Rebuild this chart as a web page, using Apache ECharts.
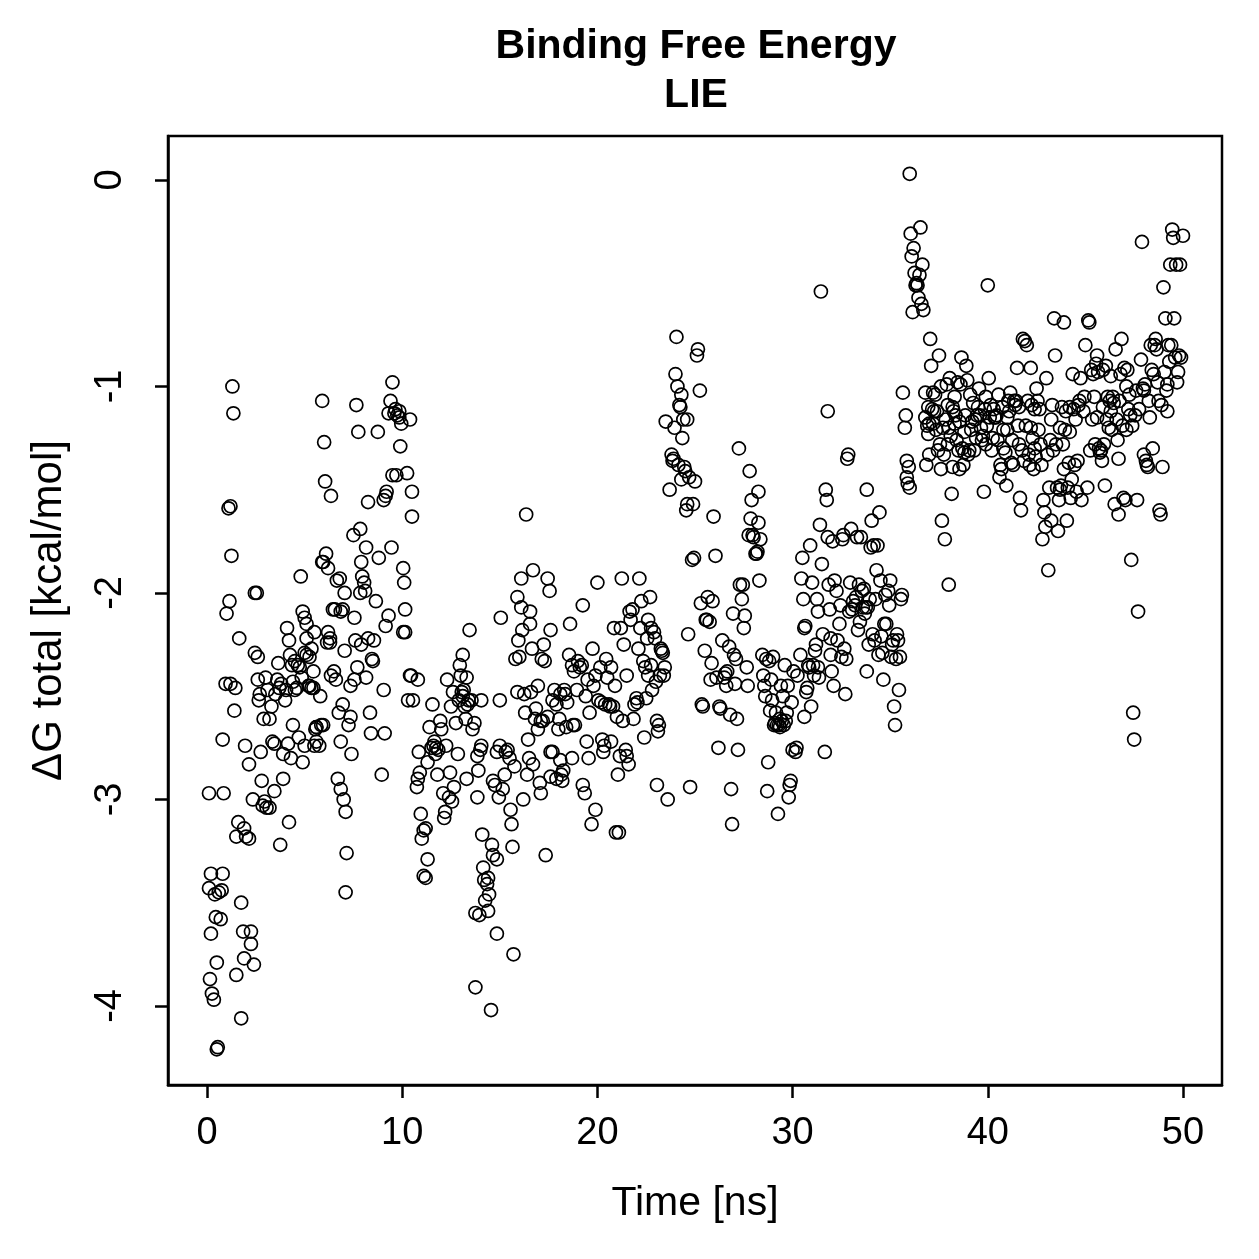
<!DOCTYPE html>
<html>
<head>
<meta charset="utf-8">
<script src="https://cdn.jsdelivr.net/npm/echarts@6/dist/echarts.min.js"></script>
<style>
  html, body { margin: 0; padding: 0; background: #fff; }
  #lie { width: 1259px; height: 1259px; }
</style>
</head>
<body>
<div id="lie"></div>
<script>
// tick labels
var xTicks = [0, 10, 20, 30, 40, 50];
var yTicks = [-4, -3, -2, -1, 0];

// [time ns, dG kcal/mol], one array per stretch of the run
var seg0 = [[0.1,-2.97],[0.1,-3.43],[0.15,-3.87],[0.2,-3.36],[0.2,-3.65],[0.25,-3.94],[0.35,-3.97],[0.4,-3.46],[0.5,-4.21],[0.55,-4.2],[0.5,-3.79],[0.45,-3.57],[0.6,-3.45],[0.75,-3.44],[0.8,-3.36],[0.7,-3.58],[0.85,-2.97],[0.8,-2.71],[1.0,-2.1],[0.95,-2.44],[1.1,-1.59],[1.2,-1.58],[1.15,-2.04],[1.25,-1.82],[1.2,-2.44],[1.3,-1.0],[1.35,-1.13],[1.45,-2.46],[1.4,-2.57],[1.65,-2.22],[1.6,-3.11],[1.5,-3.18],[1.5,-3.85],[1.75,-3.5],[1.75,-4.06],[1.85,-3.64],[1.9,-3.77],[1.9,-3.14],[2.0,-3.18],[2.15,-3.19],[1.95,-2.74],[2.15,-2.83],[2.25,-3.7],[2.25,-3.64],[2.4,-3.8],[2.35,-3.0],[2.45,-2.0],[2.55,-2.0],[2.45,-2.29],[2.6,-2.31],[2.7,-2.49],[2.65,-2.52],[2.75,-2.77],[2.8,-2.91],[2.85,-3.03],[2.95,-3.01],[3.05,-3.04],[3.2,-3.04],[2.9,-2.61],[3.0,-2.41],[3.1,-2.47],[3.2,-2.61],[3.35,-2.72],[3.45,-2.73],[3.45,-2.96],[3.6,-2.42],[3.65,-2.34],[3.5,-2.49],[3.7,-2.46],[3.75,-3.22],[3.9,-2.9],[3.9,-2.78],[4.0,-2.52],[4.1,-2.17],[4.2,-2.23],[4.25,-2.3],[4.05,-2.47],[4.15,-2.73],[4.2,-3.11],[4.4,-2.64],[4.5,-2.47],[4.35,-2.35],[4.5,-2.33],[4.65,-2.35],[4.75,-2.36],[4.6,-2.46],[4.85,-2.41],[4.8,-1.92],[4.9,-2.09],[5.0,-2.12],[5.1,-2.15],[5.0,-2.29],[5.1,-2.3],[5.25,-2.31],[5.35,-2.46],[5.25,-2.45],[4.9,-2.82],[5.0,-2.74],[5.5,-2.74],[5.6,-2.65],[5.5,-2.19],[5.45,-2.38],[4.7,-2.7],[4.3,-2.8],[3.3,-2.55],[2.6,-2.42],[3.8,-2.44],[4.4,-2.43],[5.2,-2.45],[5.55,-2.66],[5.6,-2.72]];
var seg1 = [[5.9,-1.85],[5.95,-1.85],[6.0,-1.27],[6.05,-1.46],[5.9,-1.07],[6.1,-1.81],[6.2,-1.88],[6.3,-2.24],[6.2,-2.19],[6.35,-1.53],[6.45,-2.08],[6.55,-2.08],[6.65,-1.94],[6.85,-2.09],[6.95,-2.08],[6.8,-1.93],[7.05,-2.0],[7.05,-2.28],[6.95,-2.54],[6.7,-2.9],[6.85,-2.95],[7.0,-3.0],[7.1,-3.06],[7.15,-3.26],[7.1,-3.45],[7.25,-2.64],[7.35,-2.6],[7.35,-2.45],[7.55,-2.42],[7.4,-2.78],[7.6,-2.23],[7.5,-1.72],[7.65,-1.09],[7.75,-1.22],[7.85,-1.69],[7.9,-1.85],[7.85,-2.0],[7.95,-1.92],[8.05,-1.95],[8.1,-1.99],[8.15,-1.78],[8.25,-1.56],[8.25,-2.22],[8.15,-2.41],[8.35,-2.58],[8.45,-2.32],[8.5,-2.33],[8.4,-2.68],[8.55,-2.23],[8.65,-2.04],[8.75,-1.22],[8.8,-1.83],[8.95,-2.88],[9.1,-2.68],[9.05,-2.47],[9.15,-2.16],[9.05,-1.55],[9.15,-1.53],[9.2,-1.51],[9.3,-2.11],[9.45,-1.78],[9.5,-1.43],[9.3,-1.13],[9.4,-1.07],[9.5,-0.98],[9.6,-1.13],[9.65,-1.11],[9.75,-1.14],[9.85,-1.15],[9.85,-1.12],[9.95,-1.18],[9.9,-1.29],[9.7,-1.43],[10.05,-1.88],[10.1,-1.95],[10.15,-2.08],[10.15,-2.19],[10.05,-2.19],[10.25,-1.42],[10.4,-1.16],[10.5,-1.51],[10.5,-1.63],[5.1,-2.22],[5.35,-2.27],[5.45,-2.46],[5.6,-2.65],[5.75,-2.74],[5.85,-2.64],[5.95,-2.64],[5.8,-2.5],[6.15,-2.24],[6.3,-2.22],[6.35,-2.4],[6.5,-2.38],[6.6,-2.42],[6.75,-2.58],[6.85,-2.72],[7.55,-2.12],[7.7,-2.36],[7.9,-2.25]];
var seg2 = [[10.4,-2.4],[10.3,-2.52],[10.45,-2.4],[10.55,-2.52],[10.8,-2.42],[10.85,-2.77],[10.75,-2.94],[10.8,-2.9],[10.9,-2.87],[10.95,-3.07],[11.0,-3.19],[11.1,-3.15],[11.2,-3.14],[11.1,-3.37],[11.2,-3.38],[11.3,-3.29],[11.3,-2.82],[11.5,-2.75],[11.6,-2.74],[11.4,-2.65],[11.55,-2.54],[11.65,-2.72],[11.75,-2.75],[11.85,-2.76],[11.95,-2.62],[12.0,-2.66],[12.1,-2.97],[12.15,-3.09],[12.2,-3.06],[12.25,-2.74],[12.3,-2.42],[12.4,-2.99],[12.55,-3.01],[12.65,-2.94],[12.75,-2.63],[12.85,-2.78],[12.9,-2.52],[13.0,-2.4],[13.05,-2.48],[13.1,-2.5],[13.15,-2.47],[13.3,-2.41],[13.25,-2.61],[13.35,-2.54],[13.4,-2.52],[13.45,-2.18],[13.6,-2.66],[13.7,-2.63],[13.85,-2.79],[13.9,-2.86],[13.85,-2.99],[14.0,-2.76],[14.05,-2.74],[14.05,-2.52],[14.1,-3.17],[14.15,-3.33],[14.2,-3.39],[14.35,-3.41],[14.4,-3.38],[14.45,-3.46],[14.4,-3.54],[14.25,-3.49],[13.95,-3.56],[13.75,-3.55],[13.75,-3.91],[14.55,-4.02],[14.6,-3.22],[14.65,-3.27],[14.85,-3.29],[14.65,-2.91],[14.75,-2.93],[14.85,-2.77],[14.85,-3.65],[14.95,-2.99],[15.0,-2.74],[15.0,-2.52],[15.05,-2.12],[15.15,-2.95],[15.25,-2.88],[15.3,-2.77],[15.4,-2.76],[11.7,-2.78],[12.5,-2.55],[12.6,-2.48],[13.2,-2.55],[12.95,-2.35],[13.1,-2.3],[13.3,-2.9],[11.8,-2.88],[12.45,-2.87],[13.55,-2.52]];
var seg3 = [[15.5,-2.8],[15.55,-3.05],[15.6,-3.12],[15.65,-3.23],[15.7,-3.75],[15.75,-2.84],[15.8,-2.32],[15.9,-2.48],[15.9,-2.02],[15.95,-2.23],[16.0,-2.31],[16.1,-1.93],[16.1,-2.07],[16.15,-2.18],[16.2,-3.0],[16.25,-2.49],[16.3,-2.58],[16.35,-1.62],[16.4,-2.88],[16.45,-2.71],[16.55,-2.15],[16.55,-2.09],[16.65,-2.27],[16.7,-1.89],[16.7,-2.83],[16.8,-2.61],[16.85,-2.56],[16.95,-2.66],[17.05,-2.92],[17.1,-2.97],[17.1,-2.62],[17.15,-2.32],[17.25,-2.25],[17.3,-2.33],[17.35,-3.27],[17.45,-1.93],[17.55,-1.99],[17.6,-2.18],[17.45,-2.6],[17.6,-2.77],[17.6,-2.89],[17.7,-2.77],[17.8,-2.47],[17.9,-2.54],[18.05,-2.61],[18.0,-2.66],[18.1,-2.81],[18.15,-2.88],[18.2,-2.91],[18.25,-2.86],[18.3,-2.47],[18.35,-2.49],[18.45,-2.53],[18.55,-2.3],[18.6,-2.15],[18.7,-2.35],[18.7,-2.8],[18.75,-2.64],[18.85,-2.64],[18.95,-2.47],[19.0,-2.33],[19.1,-2.36],[19.2,-2.35],[19.25,-2.06],[19.25,-2.93],[19.35,-2.97],[19.45,-2.72],[19.55,-2.8],[19.6,-2.58],[19.7,-3.12],[19.75,-2.27],[19.8,-2.45],[19.9,-2.4],[19.9,-3.05],[20.0,-1.95],[20.05,-2.52],[20.15,-2.36],[16.6,-2.48],[16.95,-2.45],[17.2,-2.62],[17.7,-2.52],[18.1,-2.49],[18.4,-2.65],[18.8,-2.38],[19.4,-2.5],[19.5,-2.42],[17.9,-2.9],[16.5,-2.8]];
var seg4 = [[20.2,-2.53],[20.25,-2.71],[20.3,-2.77],[20.35,-2.74],[20.4,-2.54],[20.45,-2.32],[20.5,-2.41],[20.6,-2.54],[20.65,-2.55],[20.7,-2.36],[20.7,-2.72],[20.8,-2.55],[20.85,-2.17],[20.95,-3.16],[21.05,-2.88],[21.1,-3.16],[21.15,-2.79],[21.2,-2.17],[21.25,-1.93],[21.3,-2.62],[21.35,-2.25],[21.45,-2.76],[21.5,-2.79],[21.6,-2.83],[21.65,-2.09],[21.7,-2.13],[21.8,-2.08],[21.85,-2.61],[21.9,-2.54],[22.0,-2.51],[22.05,-2.53],[22.1,-2.27],[22.15,-1.93],[22.2,-2.17],[22.25,-2.04],[22.35,-2.33],[22.45,-2.36],[22.5,-2.51],[22.55,-2.22],[22.6,-2.13],[22.7,-2.02],[22.75,-2.17],[22.75,-2.35],[22.8,-2.47],[22.9,-2.19],[22.95,-2.22],[23.0,-2.43],[23.05,-2.62],[23.1,-2.67],[23.15,-2.64],[23.05,-2.93],[23.2,-2.4],[23.25,-2.27],[23.3,-2.28],[23.35,-2.29],[23.4,-2.4],[23.45,-2.36],[23.5,-1.17],[23.6,-3.0],[23.7,-1.5],[23.8,-1.33],[23.85,-1.36],[23.95,-1.2],[24.05,-0.76],[24.0,-0.94],[24.1,-1.0],[24.2,-1.09],[24.3,-1.04],[24.25,-1.1],[24.35,-1.25],[24.4,-1.16],[24.45,-1.39],[24.5,-1.41],[24.6,-1.57],[24.65,-2.2],[24.7,-1.44],[24.75,-2.94],[24.85,-1.84],[24.9,-1.57],[24.95,-1.83],[25.0,-1.46],[25.1,-0.85],[25.15,-0.82],[25.25,-1.02],[23.9,-1.35],[24.15,-1.38],[24.3,-1.45],[24.55,-1.6],[24.6,-1.16],[21.5,-2.4],[21.0,-2.6],[22.4,-2.7],[22.6,-2.4],[20.9,-2.45]];
var seg5 = [[25.3,-2.05],[25.35,-2.54],[25.4,-2.55],[25.5,-2.28],[25.55,-2.13],[25.6,-2.13],[25.65,-2.02],[25.75,-2.14],[25.8,-2.42],[25.85,-2.34],[25.9,-2.04],[25.95,-1.63],[26.05,-1.82],[26.1,-2.41],[26.2,-2.75],[26.25,-2.55],[26.3,-2.56],[26.4,-2.23],[26.5,-2.41],[26.55,-2.39],[26.65,-2.38],[26.75,-2.26],[26.8,-2.59],[26.85,-2.95],[26.9,-3.12],[26.95,-2.1],[27.05,-2.44],[27.1,-2.32],[27.15,-2.61],[27.2,-2.76],[27.25,-1.3],[27.3,-1.96],[27.4,-2.03],[27.45,-1.96],[27.5,-2.17],[27.55,-2.11],[27.65,-2.36],[27.7,-2.45],[27.75,-1.72],[27.8,-1.41],[27.85,-1.64],[27.9,-1.55],[27.95,-1.72],[28.0,-1.73],[28.1,-1.81],[28.15,-1.81],[28.2,-1.8],[28.25,-1.51],[28.3,-1.94],[28.25,-1.66],[28.35,-1.74],[28.45,-2.3],[28.55,-2.45],[28.65,-2.32],[28.7,-2.96],[28.75,-2.82],[28.8,-2.33],[28.85,-2.57],[28.9,-2.42],[29.0,-2.31],[29.1,-2.63],[29.15,-2.58],[29.2,-2.64],[29.25,-3.07],[29.3,-2.64],[29.35,-2.61],[29.45,-2.62],[29.55,-2.64],[29.6,-2.35],[29.65,-2.62],[29.7,-2.58],[29.8,-2.99],[29.85,-2.93],[29.9,-2.91],[29.95,-2.53],[30.0,-2.76],[30.05,-2.38],[30.15,-2.77],[30.2,-2.75],[30.25,-2.4],[28.5,-2.4],[28.95,-2.52],[29.4,-2.45],[29.75,-2.45],[26.6,-2.45],[27.0,-2.3],[28.6,-2.5],[29.5,-2.5],[29.05,-2.64],[29.35,-2.65]];
var seg6 = [[30.4,-2.3],[30.45,-1.93],[30.5,-1.83],[30.55,-2.03],[30.6,-2.17],[30.65,-2.16],[30.7,-2.48],[30.75,-2.46],[30.8,-2.35],[30.85,-2.36],[30.9,-1.77],[31.0,-1.95],[31.05,-2.35],[31.15,-2.28],[31.2,-2.25],[31.25,-2.03],[31.3,-2.36],[31.3,-2.09],[31.35,-2.41],[31.4,-1.67],[31.45,-0.54],[31.5,-1.86],[31.55,-2.2],[31.65,-2.77],[31.7,-1.5],[31.75,-1.55],[31.8,-1.12],[31.8,-1.73],[31.85,-1.96],[31.9,-2.08],[31.95,-2.22],[31.95,-2.3],[32.0,-2.38],[32.05,-1.75],[32.15,-1.94],[32.25,-1.99],[32.3,-2.23],[32.45,-2.06],[32.5,-2.31],[32.55,-1.74],[32.6,-1.72],[32.65,-2.27],[32.7,-2.49],[32.75,-2.32],[32.8,-1.35],[32.85,-1.33],[32.9,-2.09],[32.95,-1.95],[33.0,-1.69],[33.05,-2.08],[33.1,-2.04],[33.2,-2.06],[33.3,-1.73],[33.25,-2.02],[33.35,-2.18],[33.4,-1.96],[33.45,-2.14],[33.5,-1.73],[33.55,-1.99],[33.6,-2.07],[33.65,-1.98],[33.75,-2.07],[33.8,-2.38],[33.8,-1.5],[33.85,-2.07],[33.95,-2.03],[34.0,-1.78],[34.05,-1.65],[34.1,-2.2],[34.15,-1.77],[34.2,-2.23],[34.25,-2.03],[34.3,-1.89],[34.35,-1.77],[34.45,-1.61],[34.5,-1.94],[34.55,-2.21],[34.6,-2.29],[34.65,-2.42],[34.7,-2.15],[34.75,-2.01],[34.8,-2.15],[34.9,-1.99],[34.95,-2.06],[35.0,-1.94],[35.05,-2.31],[35.1,-2.25],[35.15,-2.23],[35.2,-2.55],[35.25,-2.64],[35.3,-2.32],[35.35,-2.2],[35.4,-2.23],[35.45,-2.47],[35.5,-2.31],[35.55,-2.03],[35.6,-2.01],[35.65,-1.03],[33.7,-2.1],[33.9,-2.25],[34.4,-2.3],[32.4,-2.15],[32.1,-2.45],[31.1,-2.4],[30.95,-2.55],[30.6,-2.6]];
var seg7 = [[35.75,-1.2],[35.8,-1.14],[35.85,-1.36],[35.85,-1.44],[35.9,-1.47],[35.95,-1.39],[36.0,-1.49],[36.0,0.03],[36.05,-0.26],[36.1,-0.37],[36.15,-0.64],[36.2,-0.33],[36.25,-0.45],[36.3,-0.51],[36.35,-0.5],[36.4,-0.51],[36.45,-0.57],[36.5,-0.46],[36.55,-0.23],[36.6,-0.6],[36.65,-0.41],[36.7,-0.63],[36.8,-1.03],[36.8,-1.15],[36.85,-1.38],[36.9,-1.19],[36.95,-1.1],[36.95,-1.23],[37.0,-1.33],[37.05,-0.77],[37.1,-0.9],[37.15,-1.11],[37.2,-1.03],[37.25,-1.12],[37.3,-1.04],[37.35,-1.21],[37.4,-1.12],[37.45,-1.31],[37.5,-0.85],[37.55,-1.28],[37.6,-1.4],[37.65,-1.65],[37.7,-1.2],[37.75,-1.33],[37.8,-1.74],[37.85,-1.16],[37.9,-0.99],[37.95,-1.09],[37.95,-1.28],[38.0,-1.96],[38.05,-0.96],[38.1,-1.24],[38.15,-1.52],[38.2,-1.39],[38.25,-1.12],[38.3,-1.18],[38.35,-1.14],[38.4,-1.26],[38.45,-0.98],[38.5,-1.31],[38.55,-1.17],[38.6,-0.99],[38.65,-0.86],[38.7,-1.3],[38.75,-1.38],[38.8,-1.32],[38.85,-1.14],[38.9,-0.9],[38.95,-0.97],[39.0,-1.33],[39.05,-1.31],[39.1,-1.04],[39.15,-1.21],[39.2,-1.17],[39.3,-1.31],[39.35,-1.16],[39.45,-1.14],[39.5,-1.1],[39.55,-1.01],[39.6,-1.14],[39.65,-1.2],[39.7,-1.26],[39.75,-1.24],[39.8,-1.51],[39.85,-1.11],[39.9,-1.28],[39.95,-1.19],[40.0,-0.51],[40.05,-0.96],[40.1,-1.15],[40.15,-1.09],[40.2,-1.31],[40.25,-1.25],[40.3,-1.11],[40.35,-1.15],[37.2,-1.18],[38.0,-1.2],[38.3,-1.05],[38.8,-1.22],[39.25,-1.08],[39.4,-1.25],[37.6,-1.0],[38.55,-1.4],[39.9,-1.05],[38.2,-1.1],[37.0,-1.18]];
var seg8 = [[40.4,-1.15],[40.45,-1.14],[40.5,-1.26],[40.55,-1.04],[40.6,-1.44],[40.65,-1.38],[40.7,-1.4],[40.75,-1.1],[40.8,-1.21],[40.9,-1.32],[40.95,-1.48],[41.0,-1.21],[41.05,-1.07],[41.1,-1.12],[41.15,-1.03],[41.2,-1.37],[41.25,-1.26],[41.3,-1.38],[41.35,-1.07],[41.4,-1.09],[41.45,-1.07],[41.5,-0.91],[41.55,-1.19],[41.6,-1.28],[41.65,-1.54],[41.7,-1.6],[41.75,-1.31],[41.8,-0.77],[41.85,-1.36],[41.9,-0.78],[41.95,-1.19],[42.0,-0.8],[42.05,-1.07],[42.1,-1.33],[42.15,-1.38],[42.2,-0.91],[42.25,-1.09],[42.3,-1.25],[42.35,-1.4],[42.4,-1.11],[42.45,-1.34],[42.5,-1.01],[42.55,-1.07],[42.6,-1.21],[42.65,-1.11],[42.75,-1.38],[42.8,-1.74],[42.85,-1.55],[42.9,-1.61],[42.95,-1.68],[43.0,-0.96],[43.05,-1.33],[43.1,-1.89],[43.15,-1.49],[43.2,-1.26],[43.25,-1.65],[43.3,-1.09],[43.35,-1.31],[43.4,-0.67],[43.45,-0.85],[43.5,-1.28],[43.55,-1.49],[43.6,-1.7],[43.65,-1.55],[43.7,-1.5],[43.75,-1.48],[43.8,-1.1],[43.85,-1.28],[43.9,-0.69],[43.95,-1.21],[44.0,-1.12],[44.05,-1.65],[44.1,-1.49],[44.15,-1.37],[44.2,-1.22],[44.25,-1.54],[44.3,-1.45],[44.35,-0.94],[44.4,-1.11],[44.45,-1.38],[44.5,-1.16],[44.55,-1.51],[44.6,-1.36],[44.65,-1.09],[44.7,-1.07],[44.75,-0.96],[44.8,-1.55],[44.9,-1.12],[44.95,-1.05],[45.0,-0.8],[41.0,-1.15],[41.6,-1.1],[42.2,-1.2],[42.7,-1.28],[43.25,-1.16],[43.7,-1.2],[44.2,-1.1],[40.8,-1.3],[42.4,-1.3],[43.9,-1.4]];
var seg9 = [[45.1,-1.49],[45.15,-0.68],[45.2,-0.69],[45.25,-1.31],[45.3,-0.92],[45.35,-1.16],[45.4,-0.94],[45.45,-1.05],[45.5,-1.28],[45.55,-0.89],[45.6,-0.85],[45.65,-0.93],[45.7,-1.3],[45.75,-1.32],[45.8,-1.31],[45.85,-1.36],[45.9,-0.92],[45.95,-1.28],[46.0,-1.48],[46.05,-0.9],[46.1,-1.16],[46.15,-1.05],[46.2,-1.2],[46.25,-1.07],[46.3,-1.12],[46.35,-1.21],[46.4,-1.05],[46.45,-1.08],[46.5,-1.57],[46.55,-0.82],[46.6,-1.16],[46.65,-1.26],[46.7,-1.62],[46.75,-1.07],[46.8,-0.94],[46.85,-0.77],[46.9,-1.19],[46.95,-1.54],[47.0,-0.91],[47.05,-1.55],[47.1,-1.21],[47.15,-0.92],[47.2,-1.11],[47.25,-1.04],[47.3,-1.14],[47.35,-1.84],[47.4,-1.19],[47.45,-2.58],[47.5,-2.71],[47.55,-1.14],[47.6,-1.02],[47.65,-1.55],[47.7,-2.09],[47.75,-1.11],[47.85,-0.87],[47.9,-0.3],[47.95,-1.01],[48.0,-1.33],[48.05,-0.99],[48.1,-1.36],[48.15,-1.38],[48.2,-1.39],[48.25,-1.07],[48.35,-0.8],[48.4,-0.92],[48.5,-0.94],[48.55,-0.8],[48.6,-0.77],[48.65,-0.82],[48.7,-0.98],[48.75,-1.07],[48.8,-1.6],[48.85,-1.62],[48.9,-1.09],[48.95,-1.39],[49.0,-0.52],[49.05,-0.93],[49.1,-0.67],[49.15,-1.02],[49.2,-0.99],[49.25,-0.8],[49.3,-0.88],[49.35,-0.41],[49.4,-0.8],[49.45,-0.24],[49.5,-0.28],[49.55,-0.67],[49.6,-0.86],[49.65,-0.41],[49.7,-0.98],[49.75,-0.93],[49.8,-0.85],[49.85,-0.41],[49.9,-0.86],[50.0,-0.27],[45.9,-1.1],[46.3,-0.95],[47.1,-1.0],[48.3,-1.15],[48.45,-1.3],[49.2,-1.12],[48.0,-1.02],[46.7,-1.35],[45.6,-1.15]];

var points = [].concat(seg0, seg1, seg2, seg3, seg4, seg5, seg6, seg7, seg8, seg9);

var font = '"Liberation Sans", Arial, Helvetica, sans-serif';

var chart = echarts.init(document.getElementById('lie'));
chart.setOption({
  animation: false,
  backgroundColor: '#fff',
  graphic: [
    { type: 'text', x: 696, y: 47, style: { text: 'Binding Free Energy', font: 'bold 41px ' + font, fill: '#000', textAlign: 'center', textVerticalAlign: 'middle' } },
    { type: 'text', x: 696, y: 96, style: { text: 'LIE', font: 'bold 41px ' + font, fill: '#000', textAlign: 'center', textVerticalAlign: 'middle' } }
  ],
  grid: {
    left: 168,
    right: 37,
    top: 136,
    bottom: 174,
    show: true,
    borderColor: '#000',
    borderWidth: 2.5,
    backgroundColor: '#fff'
  },
  xAxis: {
    type: 'value',
    min: -2,
    max: 52,
    name: 'Time [ns]',
    nameLocation: 'middle',
    nameGap: 98,
    nameTextStyle: { fontFamily: font, fontSize: 41, color: '#000' },
    axisLine: { show: true, onZero: false, lineStyle: { color: '#000', width: 2.5 } },
    splitLine: { show: false },
    axisTick: { show: true, length: 13, lineStyle: { color: '#000', width: 2.5 }, customValues: xTicks },
    axisLabel: { fontFamily: font, fontSize: 38, color: '#000', margin: 30, customValues: xTicks }
  },
  yAxis: {
    type: 'value',
    min: -4.383,
    max: 0.213,
    name: 'ΔG total [kcal/mol]',
    nameLocation: 'middle',
    nameGap: 98,
    nameTextStyle: { fontFamily: font, fontSize: 42, color: '#000' },
    axisLine: { show: true, onZero: false, lineStyle: { color: '#000', width: 2.5 } },
    splitLine: { show: false },
    axisTick: { show: true, length: 13, lineStyle: { color: '#000', width: 2.5 }, customValues: yTicks },
    axisLabel: { fontFamily: font, fontSize: 38, color: '#000', margin: 38, rotate: 90, customValues: yTicks }
  },
  series: [{
    type: 'scatter',
    data: points,
    symbol: 'circle',
    symbolSize: 13,
    itemStyle: { color: 'rgba(0,0,0,0)', borderColor: '#000', borderWidth: 1.7, opacity: 1 },
    emphasis: { disabled: true }
  }]
});
</script>
</body>
</html>
